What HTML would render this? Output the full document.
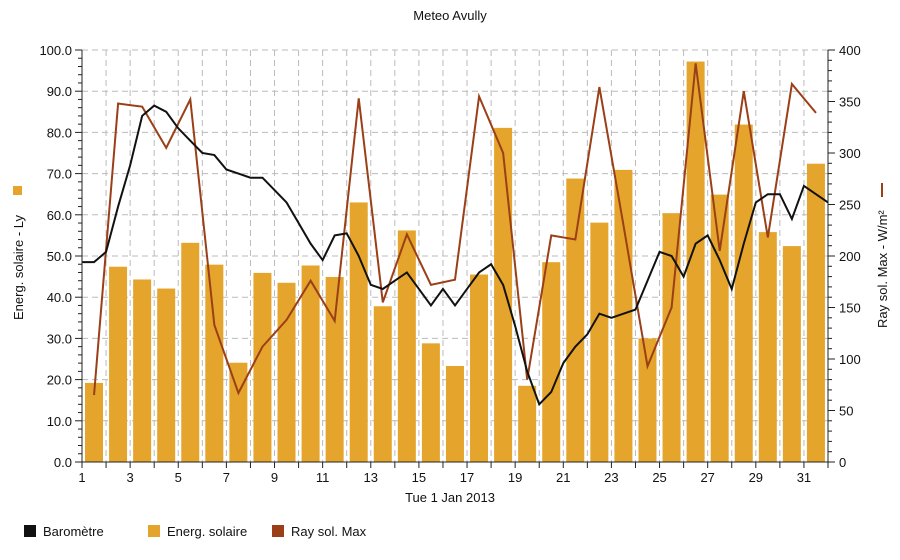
<!DOCTYPE html>
<html><head><meta charset="utf-8"><style>
body{margin:0;background:#fff;width:900px;height:555px;overflow:hidden;font-family:"Liberation Sans",sans-serif}
svg text{font-family:"Liberation Sans",sans-serif;fill:#111}
</style></head><body>
<svg id="c" width="900" height="555"></svg>
<script>
const days=[1,2,3,4,5,6,7,8,9,10,11,12,13,14,15,16,17,18,19,20,21,22,23,24,25,26,27,28,29,30,31];
const energy=[19.2,47.4,44.3,42.1,53.2,47.9,24.1,45.9,43.5,47.7,44.9,63.0,37.8,56.2,28.8,23.3,45.5,81.1,18.5,48.5,68.8,58.1,70.9,30.0,60.4,97.2,64.9,81.9,55.8,52.4,72.4];
const raySol=[65,348,345,305,352,133,67,112,138,176,137,353,155,221,172,177,355,300,80,220,216,364,230,93,150,387,205,360,218,367,339];
const baroT=[1,1.5,2,2.5,3,3.5,4,4.5,5,5.5,6,6.5,7,7.5,8,8.5,9,9.5,10,10.5,11,11.5,12,12.5,13,13.5,14,14.5,15,15.5,16,16.5,17,17.5,18,18.5,19,19.5,20,20.5,21,21.5,22,22.5,23,23.5,24,24.5,25,25.5,26,26.5,27,27.5,28,28.5,29,29.5,30,30.5,31,31.5,32];
const baro=[48.5,48.5,51,62,72,84,86.5,85,81,78,75,74.5,71,70,69,69,66,63,58,53,49,55,55.5,50,43,42,44,46,42,38,42,38,42,46,48,43,33,22,14,17,24,28,31,36,35,36,37,44,51,50,45,53,55,49,42,53,63,65,65,59,67,65,63];
const leftTicks=[0,10,20,30,40,50,60,70,80,90,100];
const rightTicks=[0,50,100,150,200,250,300,350,400];
const xTicks=[1,3,5,7,9,11,13,15,17,19,21,23,25,27,29,31];

const X0=82,X1=828,YT=50,YB=462;
const xs=d=>X0+(d-1)*(X1-X0)/31;
const yl=v=>YB-v*(YB-YT)/100;
const yr=v=>YB-v*(YB-YT)/400;
const svg=document.getElementById('c');const NS='http://www.w3.org/2000/svg';
function mk(t,a,p){const e=document.createElementNS(NS,t);for(const k in a)e.setAttribute(k,a[k]);(p||svg).appendChild(e);return e;}
// grid
const g=mk('g',{});


for(let d=2;d<=31;d++)mk('line',{x1:xs(d),x2:xs(d),y1:YT,y2:YB,stroke:'#bbb','stroke-dasharray':'6,4'},g);
leftTicks.forEach(v=>{if(v>0)mk('line',{x1:X0,x2:X1,y1:yl(v),y2:yl(v),stroke:'#bbb','stroke-dasharray':'6,4'},g);});
// bars
const bg=mk('g',{});


energy.forEach((v,i)=>{const r=mk('rect',{x:xs(days[i])+3,width:18,y:yl(v),height:YB-yl(v),fill:'#E5A42B'},bg);

});
// ray line
const rl=mk('polyline',{points:raySol.map((v,i)=>xs(days[i]+0.5)+','+yr(v)).join(' '),fill:'none',stroke:'#9A3F17','stroke-width':2});


const bl=mk('polyline',{points:baro.map((v,i)=>xs(baroT[i])+','+yl(v)).join(' '),fill:'none',stroke:'#111','stroke-width':2});


// axes
mk('line',{x1:X0,x2:X0,y1:YT,y2:YB,stroke:'#222'});
mk('line',{x1:X1,x2:X1,y1:YT,y2:YB,stroke:'#222'});
mk('line',{x1:X0,x2:X1,y1:YB,y2:YB,stroke:'#222'});
for(let v=0;v<=100;v+=2)mk('line',{x1:X0-(v%10?4:7),x2:X0,y1:yl(v),y2:yl(v),stroke:'#222'});
for(let v=0;v<=400;v+=10)mk('line',{x1:X1,x2:X1+(v%50?4:7),y1:yr(v),y2:yr(v),stroke:'#222'});
for(let d=1;d<=32;d++)mk('line',{x1:xs(d),x2:xs(d),y1:YB,y2:YB+6,stroke:'#222'});
leftTicks.forEach(v=>{const t=mk('text',{x:X0-10,y:yl(v)+5,'text-anchor':'end','font-size':13});t.textContent=v.toFixed(1);

});
rightTicks.forEach(v=>{const t=mk('text',{x:X1+11,y:yr(v)+5,'font-size':13});t.textContent=v;

});
xTicks.forEach(d=>{const t=mk('text',{x:xs(d),y:482,'text-anchor':'middle','font-size':13});t.textContent=d;

});
</script>
<svg width="900" height="555" style="position:absolute;left:0;top:0">
<text x="450" y="20" text-anchor="middle" font-size="13">Meteo  Avully</text>
<text x="450" y="502" text-anchor="middle" font-size="13">Tue 1 Jan 2013</text>
<rect x="13" y="186" width="9" height="9" fill="#E5A42B"/>
<text transform="translate(23,320) rotate(-90)" font-size="13">Energ. solaire - Ly</text>
<line x1="882" y1="183" x2="882" y2="197" stroke="#9A3F17" stroke-width="2"/>
<text transform="translate(887,328) rotate(-90)" font-size="13">Ray sol. Max - W/m²</text>
<g>
<rect x="24" y="525" width="12" height="12" fill="#111"/>
<text x="43" y="536" font-size="13">Baromètre</text>
<rect x="148" y="525" width="12" height="12" fill="#E5A42B"/>
<text x="167" y="536" font-size="13">Energ. solaire</text>
<rect x="272" y="525" width="12" height="12" fill="#9A3F17"/>
<text x="291" y="536" font-size="13">Ray sol. Max</text>
</g>
</svg>
</body></html>
